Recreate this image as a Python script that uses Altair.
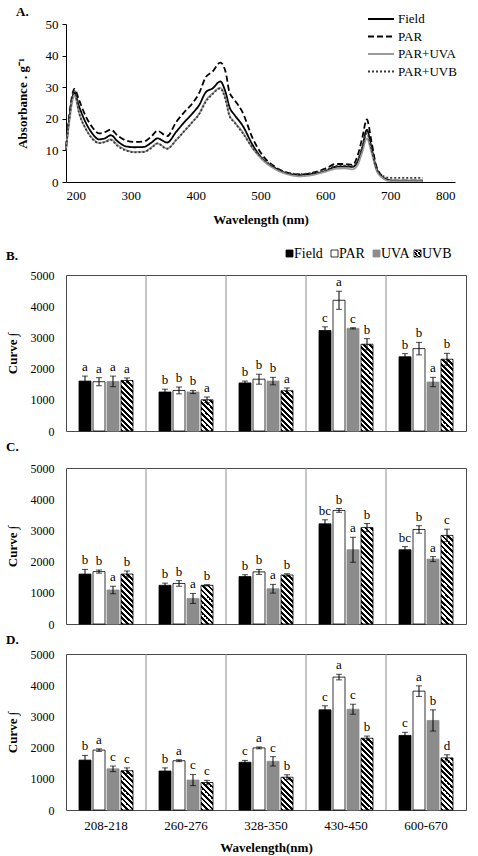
import altair as alt
import pandas as pd

SERIF = "Liberation Serif"

# ---------------- Panel A data (absorbance spectra) ----------------
wavelength = [200, 205, 213, 220, 230, 240, 251, 260, 269, 280, 292, 305, 320, 332, 341, 356,
              370, 382, 395, 405, 416, 426, 438, 446, 452, 460, 472, 488, 503, 524, 544, 560,
              580, 601, 616, 630, 642, 650, 657, 664, 671, 678, 688, 700, 720, 750]
abs_field = [10.5, 20, 28.3, 24, 19, 15.5, 13.5, 13.8, 14.8, 12.8, 11.3, 11.0, 11.1, 12.5, 13.8, 12.5,
             15.9, 18.8, 21.7, 24.2, 28.5, 29.6, 31.8, 28.5, 23.8, 21.2, 18, 11.7, 7.3, 4.2, 2.6, 2.2,
             2.6, 3.5, 4.8, 4.9, 4.8, 6.5, 11, 16.5, 11, 4.8, 1.5, 0.5, 0.4, 0.4]
abs_par = [11, 21, 29.5, 26, 21, 17.5, 15.4, 15.8, 16.6, 14.6, 13.2, 12.7, 12.8, 14.5, 16.2, 14.5,
           19, 22, 24.9, 28, 33.3, 34.9, 37.8, 35, 28.5, 26, 22.2, 13.8, 8.5, 4.6, 2.8, 2.4,
           2.9, 4.3, 5.7, 5.7, 5.4, 8.5, 14, 19.8, 13, 5.5, 1.8, 0.5, 0.4, 0.4]
abs_uva = [10.5, 19, 27.5, 22, 17, 14, 12.4, 12.7, 13.5, 11.6, 10.2, 9.5, 9.6, 11, 12.2, 10.6,
           13.3, 16, 19, 21.5, 25.9, 28, 29.8, 26.5, 21.2, 19, 15.9, 10.6, 7.0, 3.9, 2.3, 1.8,
           2.2, 3.3, 4.2, 4.3, 4.0, 5.5, 9.5, 13.8, 9.5, 4.2, 1.3, 0.3, 0.3, 0.3]
abs_uvb = [10, 20, 28.8, 22, 17, 13.8, 12.3, 12.6, 13.3, 11.3, 10.0, 9.4, 9.5, 10.8, 12.2, 10.5,
           13.3, 16, 19, 21.3, 25.5, 27.8, 29.6, 26, 21, 18.8, 15.6, 10.8, 7.5, 4.4, 2.8, 2.5,
           2.9, 3.9, 5.1, 5.2, 5.0, 7, 11, 15.4, 10.5, 4.8, 2.0, 1.3, 1.3, 1.3]
series_names = ["Field", "PAR", "PAR+UVA", "PAR+UVB"]

# ---------------- Bar panels data ----------------
ranges = ["208-218", "260-276", "328-350", "430-450", "600-670"]
treatments = ["Field", "PAR", "UVA", "UVB"]

b_means = [[1600, 1250, 1540, 3220, 2380],
           [1580, 1300, 1660, 4190, 2640],
           [1590, 1250, 1600, 3290, 1570],
           [1620, 1000, 1290, 2780, 2300]]
b_errs = [[160, 90, 60, 120, 100],
          [130, 110, 160, 290, 200],
          [170, 50, 120, 20, 150],
          [80, 90, 90, 180, 190]]
b_letters = [["a", "b", "b", "c", "b"],
             ["a", "b", "b", "a", "b"],
             ["a", "b", "b", "c", "a"],
             ["a", "a", "a", "b", "b"]]

c_means = [[1600, 1240, 1520, 3210, 2380],
           [1680, 1300, 1670, 3640, 3030],
           [1090, 820, 1130, 2380, 2080],
           [1600, 1240, 1570, 3090, 2840]]
c_errs = [[150, 70, 60, 130, 100],
          [50, 90, 80, 60, 120],
          [120, 160, 140, 400, 80],
          [100, 20, 40, 130, 200]]
c_letters = [["b", "b", "b", "bc", "bc"],
             ["b", "b", "b", "b", "b"],
             ["a", "a", "a", "a", "a"],
             ["b", "b", "b", "b", "c"]]

d_means = [[1600, 1250, 1530, 3210, 2390],
           [1920, 1580, 1990, 4260, 3810],
           [1320, 960, 1560, 3230, 2870],
           [1260, 880, 1050, 2300, 1670]]
d_errs = [[150, 100, 60, 130, 100],
          [40, 30, 30, 90, 170],
          [90, 180, 150, 160, 340],
          [90, 70, 80, 70, 100]]
d_letters = [["b", "b", "c", "c", "c"],
             ["a", "a", "a", "a", "a"],
             ["c", "c", "c", "c", "b"],
             ["c", "c", "b", "b", "d"]]

# ---------------- layout constants ----------------
A_W, A_H = 389, 158
P_W, P_H = 400, 156
STEP = 14.0                      # xOffset step inside an 80 px group
PAD_IN = 2.0 / 14.0              # 12 px bars, 2 px gaps
PAD_OUT = (P_W / len(ranges) / STEP - (len(treatments) - PAD_IN)) / 2
BAR_W = STEP * (1 - PAD_IN)
bar_fill = {"Field": "#000000", "PAR": "#ffffff", "UVA": "#8c8c8c"}
bar_stroke = {"Field": "#000000", "PAR": "#000000", "UVA": "#8c8c8c", "UVB": "#000000"}


def hatch(w, h, period=5.5):
    """Diagonal black/white stripes as a linear gradient in the bar's bounding box."""
    total = w + h
    stops = []
    j = 0
    while True:
        c = "#000000" if j % 2 == 0 else "#ffffff"
        o0 = min(1.0, j * period / 2 / total)
        o1 = min(1.0, (j + 1) * period / 2 / total)
        stops.append({"offset": o0, "color": c})
        stops.append({"offset": o1, "color": c})
        if o1 >= 1.0:
            break
        j += 1
    k = total / (w * w + h * h)
    return {"gradient": "linear", "x1": 0, "y1": 1, "x2": k * w, "y2": 1 - k * h, "stops": stops}


# ---------------- Panel A ----------------
rows = []
for name, vals in zip(series_names, [abs_field, abs_par, abs_uva, abs_uvb]):
    for w, v in zip(wavelength, vals):
        rows.append({"wl": w, "abs": v, "series": name})
dfA = pd.DataFrame(rows)

line_colors = ["#000000", "#000000", "#9a9a9a", "#3a3a3a"]
line_dash = [[1, 0], [6, 3], [1, 0], [2, 2]]

linesA = alt.Chart(dfA).mark_line(interpolate="monotone", strokeWidth=1.8).encode(
    x=alt.X("wl:Q", scale=alt.Scale(domain=[200, 800], nice=False),
            axis=alt.Axis(values=[200, 300, 400, 500, 600, 700, 800], title="Wavelength (nm)",
                          grid=False, ticks=False, labelPadding=7, titlePadding=11,
                          domainColor="#000000", labelFont=SERIF, labelFontSize=13,
                          labelColor="#000000", titleFont=SERIF, titleFontSize=13,
                          titleFontWeight="bold", titleColor="#000000")),
    y=alt.Y("abs:Q", scale=alt.Scale(domain=[0, 50], nice=False),
            axis=alt.Axis(values=[0, 10, 20, 30, 40, 50], title="Absorbance . g⁻¹",
                          grid=False, tickSize=4, tickColor="#000000", labelPadding=4,
                          titlePadding=16, domainColor="#000000", labelFont=SERIF,
                          labelFontSize=13, labelColor="#000000", titleFont=SERIF,
                          titleFontSize=13, titleFontWeight="bold", titleColor="#000000")),
    color=alt.Color("series:N", scale=alt.Scale(domain=series_names, range=line_colors), legend=None),
    strokeDash=alt.StrokeDash("series:N", scale=alt.Scale(domain=series_names, range=line_dash), legend=None),
    order=alt.Order("wl:Q"),
)

one = alt.Data(values=[{"k": 1}])
legA_layers = []
for i, name in enumerate(series_names):
    yy = -5 + i * 17.5
    legA_layers.append(
        alt.Chart(one).mark_rule(color=line_colors[i], strokeDash=line_dash[i], strokeWidth=1.8).encode(
            x=alt.value(302), x2=alt.value(328), y=alt.value(yy)))
    legA_layers.append(
        alt.Chart(one).mark_text(align="left", baseline="middle", font=SERIF, fontSize=13).encode(
            x=alt.value(332), y=alt.value(yy), text=alt.value(name), fill=alt.value("#000000")))

panelA = alt.layer(linesA, *legA_layers).properties(
    width=A_W, height=A_H,
    title=alt.Title("A.", anchor="start", frame="bounds", font=SERIF, fontSize=13,
                    fontWeight="bold", color="#000000", offset=-6),
    view=alt.ViewBackground(strokeOpacity=0),
)


# ---------------- Bar panels ----------------
def bar_panel(means, errs, letters, label, show_x, title_offset, legend=False):
    data_rows = []
    for i, t in enumerate(treatments):
        for j, r in enumerate(ranges):
            v = means[i][j]
            e = errs[i][j]
            h = v / 5000 * P_H
            data_rows.append({
                "range": r, "treatment": t, "value": v, "lo": v - e, "hi": v + e,
                "letter": letters[i][j],
                "barfill": hatch(BAR_W, h) if t == "UVB" else bar_fill[t],
                "barstroke": bar_stroke[t],
            })
    data = alt.Data(values=data_rows)

    if show_x:
        xaxis = alt.Axis(title="Wavelength(nm)", labelAngle=0, ticks=False, domain=False,
                         labelPadding=9, titlePadding=9, labelFont=SERIF, labelFontSize=13,
                         labelColor="#000000", titleFont=SERIF, titleFontSize=13,
                         titleFontWeight="bold", titleColor="#000000")
    else:
        xaxis = None

    xscale = alt.Scale(domain=ranges, paddingInner=0, paddingOuter=0)
    xenc = alt.X("range:N", sort=ranges, scale=xscale, axis=xaxis)
    xoff = alt.XOffset("treatment:N", sort=treatments,
                       scale=alt.Scale(domain=treatments, paddingInner=PAD_IN, paddingOuter=PAD_OUT))
    yaxis = alt.Axis(values=[0, 1000, 2000, 3000, 4000, 5000], format="d", labelOverlap=False,
                     title="Curve ∫", grid=False,
                     ticks=False, domain=False, labelPadding=12, titlePadding=11,
                     labelFont=SERIF, labelFontSize=12, labelColor="#000000",
                     titleFont=SERIF, titleFontSize=13, titleFontWeight="bold",
                     titleColor="#000000")
    yscale = alt.Scale(domain=[0, 5000], nice=False)

    base = alt.Chart(data).encode(x=xenc, xOffset=xoff)
    bars = base.mark_bar(strokeWidth=0.8).encode(
        y=alt.Y("value:Q", scale=yscale, axis=yaxis, stack=None),
        fill=alt.Fill("barfill:N", scale=None),
        stroke=alt.Stroke("barstroke:N", scale=None),
    )
    err = base.mark_rule(color="#000000", strokeWidth=1).encode(
        y=alt.Y("lo:Q", scale=yscale, axis=yaxis), y2="hi:Q")
    cap_hi = base.mark_tick(color="#000000", thickness=1, size=6).encode(
        y=alt.Y("hi:Q", scale=yscale, axis=yaxis))
    cap_lo = base.mark_tick(color="#000000", thickness=1, size=6).encode(
        y=alt.Y("lo:Q", scale=yscale, axis=yaxis))
    txt = base.mark_text(baseline="bottom", dy=-2, font=SERIF, fontSize=13).encode(
        y=alt.Y("hi:Q", scale=yscale, axis=yaxis), text=alt.Text("letter:N"),
        fill=alt.value("#000000"))

    seps = alt.Chart(alt.Data(values=[{"range": r} for r in ranges[1:]])).mark_rule(
        color="#8c8c8c", strokeWidth=1).encode(
        x=alt.X("range:N", sort=ranges, bandPosition=0, scale=xscale, axis=xaxis),
        y=alt.value(0), y2=alt.value(P_H))

    layers = [bars, seps, err, cap_hi, cap_lo, txt]

    if legend:
        leg_x = {"Field": 220, "PAR": 265, "UVA": 307, "UVB": 348}
        for t in treatments:
            sq_fill = hatch(7, 7, period=4) if t == "UVB" else bar_fill[t]
            sq_stroke = "#8c8c8c" if t == "UVA" else "#000000"
            layers.append(alt.Chart(one).mark_rect(fill=sq_fill, stroke=sq_stroke, strokeWidth=0.8).encode(
                x=alt.value(leg_x[t]), x2=alt.value(leg_x[t] + 7),
                y=alt.value(-25), y2=alt.value(-18)))
            layers.append(alt.Chart(one).mark_text(align="left", baseline="middle", font=SERIF,
                                                   fontSize=14).encode(
                x=alt.value(leg_x[t] + 8), y=alt.value(-21), text=alt.value(t),
                fill=alt.value("#000000")))

    return alt.layer(*layers).properties(
        width=P_W, height=P_H,
        title=alt.Title(label, anchor="start", frame="bounds", font=SERIF, fontSize=13,
                        fontWeight="bold", color="#000000", offset=title_offset),
        view=alt.ViewBackground(stroke="#4a4a4a", strokeWidth=1),
    )


panelB = bar_panel(b_means, b_errs, b_letters, "B.", False, -16, legend=True)
panelC = bar_panel(c_means, c_errs, c_letters, "C.", False, 8)
panelD = bar_panel(d_means, d_errs, d_letters, "D.", True, 1)

bars_block = alt.vconcat(panelB, panelC, panelD, spacing=2)
chart = alt.vconcat(panelA, bars_block, spacing=20).properties(
    padding={"left": 5, "top": 6, "right": 0, "bottom": 0}
).configure(background="#ffffff")

chart.save("out.html", embed_options={"renderer": "svg", "actions": False})
